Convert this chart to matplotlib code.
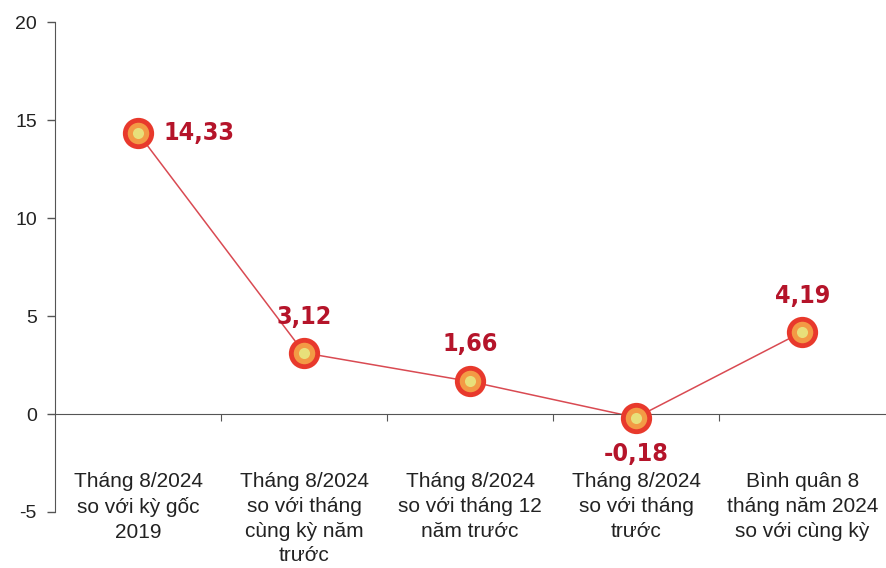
import matplotlib
matplotlib.use("Agg")
import matplotlib.pyplot as plt
from matplotlib.ticker import FixedLocator

categories = [
    "Tháng 8/2024\nso với kỳ gốc\n2019",
    "Tháng 8/2024\nso với tháng\ncùng kỳ năm\ntrước",
    "Tháng 8/2024\nso với tháng 12\nnăm trước",
    "Tháng 8/2024\nso với tháng\ntrước",
    "Bình quân 8\ntháng năm 2024\nso với cùng kỳ",
]
values = [14.33, 3.12, 1.66, -0.18, 4.19]
labels = ["14,33", "3,12", "1,66", "-0,18", "4,19"]
yticks = [-5, 0, 5, 10, 15, 20]

fig = plt.figure(figsize=(8.87, 5.68), dpi=100)
ax = fig.add_axes([0.062, 0.0986, 0.936, 0.8626])
x = list(range(len(values)))

ax.plot(x, values, color="#d94a52", lw=1.1, zorder=2)
ax.plot(x, values, "o", ms=19, mfc="#f39a45", mec="#e8392c", mew=3.5, zorder=3)
ax.plot(x, values, "o", ms=8, mfc="#e8e07a", mec="none", zorder=4)

ax.set_xlim(-0.5, 4.5)
ax.set_ylim(-5, 20)
ax.set_yticks(yticks)
ax.set_yticklabels([str(t) for t in yticks], fontsize=14, color="#222222", family="Liberation Sans")
ax.tick_params(axis="y", direction="out", length=6, width=1, color="#555555", pad=7)

for s in ["top", "right"]:
    ax.spines[s].set_visible(False)
ax.spines["left"].set_color("#555555")
ax.spines["bottom"].set_position(("data", 0))
ax.spines["bottom"].set_color("#555555")
ax.xaxis.set_major_locator(FixedLocator([0.5, 1.5, 2.5, 3.5]))
ax.tick_params(axis="x", direction="out", length=5, color="#555555", labelbottom=False)

for i, c in enumerate(categories):
    ax.annotate(c, (i, 0), xytext=(0, -42), textcoords="offset points",
                ha="center", va="top", fontsize=15, color="#222222",
                family="Liberation Sans", linespacing=1.38)

font = dict(family="DejaVu Sans", fontstretch="condensed", fontweight="bold",
            fontsize=18, color="#b5142a")
offsets = [(44, 0), (0, 26), (0, 27), (0, -26), (0, 26)]
for xi, v, lab, (dx, dy) in zip(x, values, labels, offsets):
    ax.annotate(lab, (xi, v), xytext=(dx, dy), textcoords="offset points",
                ha="center", va="center", **font)

fig.savefig("out.png", dpi=100)
